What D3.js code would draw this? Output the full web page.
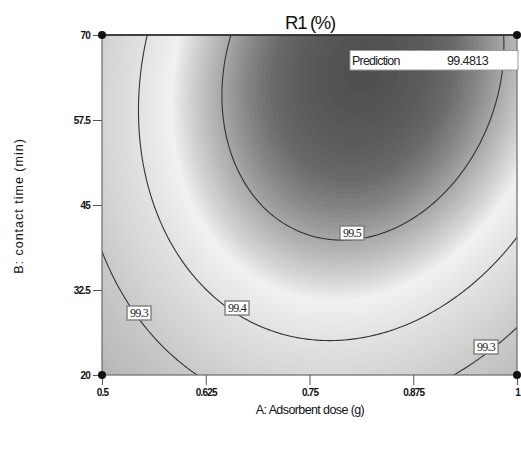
<!DOCTYPE html>
<html><head><meta charset="utf-8">
<script src="https://cdn.jsdelivr.net/npm/d3@7"></script>
<style>body{margin:0;background:#fff;font-family:"Liberation Sans",Arial,sans-serif}</style>
</head><body>
<script>
// ---- data ----
const title = "R1 (%)";
const xLabel = "A: Adsorbent dose (g)";
const yLabel = "B: contact time (min)";
const xTicks = [0.5, 0.625, 0.75, 0.875, 1];
const xTickLabels = ["0.5", "0.625", "0.75", "0.875", "1"];
const yTicks = [20, 32.5, 45, 57.5, 70];
const yTickLabels = ["20", "32.5", "45", "57.5", "70"];
// quadratic model in coded factors: Intercept, A, B, AB, A^2, B^2
const coefNames = ["Intercept", "A", "B", "AB", "A2", "B2"];
const coefValues = [99.51965, 0.05129, 0.09838, 0.02909, -0.14436, -0.06688];
const contourLevels = [99.3, 99.4, 99.5];
const labelText = ["99.3", "99.4", "99.5", "99.3"];
const labelA = [0.5446, 0.6627, 0.8012, 0.9627];
const labelB = [29.12, 29.85, 40.88, 24.12];
const designA = [0.5, 1, 0.5, 1];
const designB = [20, 20, 70, 70];
const predictionLabel = "Prediction";
const predictionValue = "99.4813";
// gray shading: value stops -> gray level
const shadeStops = [99.18, 99.3, 99.4, 99.445, 99.5, 99.54, 99.57];
const shadeGray = [180, 201, 226, 241, 168, 104, 76];

// ---- layout ----
const W = 521, H = 449;
const m = {l: 102, r: 4, t: 35, b: 74};
const x = d3.scaleLinear([0.5, 1], [m.l, W - m.r]);
const y = d3.scaleLinear([20, 70], [H - m.b, m.t]);
const codeA = d3.scaleLinear([0.5, 1], [-1, 1]);
const codeB = d3.scaleLinear([20, 70], [-1, 1]);
const grayScale = d3.scaleLinear(shadeStops, shadeGray).clamp(true);
const shade = v => { const g = Math.round(grayScale(v)); return `rgb(${g},${g},${g})`; };

function model(A, B) {
  const a = codeA(A), b = codeB(B);
  const f = [1, a, b, a * b, a * a, b * b];
  return f.reduce((s, t, i) => s + t * coefValues[i], 0);
}

const svg = d3.select("body").append("svg").attr("width", W).attr("height", H)
  .style("font-family", '"Liberation Sans", Arial, sans-serif');

svg.append("defs").append("clipPath").attr("id", "plotclip")
  .append("rect").attr("x", m.l).attr("y", m.t)
  .attr("width", W - m.r - m.l).attr("height", H - m.b - m.t);

// grid
const nx = 208, ny = 170;
const gA = d3.scaleLinear([0, nx - 1], [0.5, 1]);
const gB = d3.scaleLinear([0, ny - 1], [70, 20]);
const values = new Array(nx * ny);
for (let j = 0; j < ny; j++) for (let i = 0; i < nx; i++) values[j * nx + i] = model(gA(i), gB(j));
const path = d3.geoPath(d3.geoTransform({
  point(px, py) { this.stream.point(x(gA(px - 0.5)), y(gB(py - 0.5))); }
}));

const plot = svg.append("g").attr("clip-path", "url(#plotclip)");
const vmin = d3.min(values), vmax = d3.max(values);
plot.append("rect").attr("x", m.l).attr("y", m.t)
  .attr("width", W - m.r - m.l).attr("height", H - m.b - m.t).attr("fill", shade(vmin));
const step = 0.003;
const bands = d3.range(Math.floor(vmin / step) * step + step, vmax, step);
plot.append("g").selectAll("path")
  .data(d3.contours().size([nx, ny]).thresholds(bands)(values))
  .join("path").attr("d", path)
  .attr("fill", d => shade(d.value + step / 2))
  .attr("stroke", d => shade(d.value + step / 2)).attr("stroke-width", 0.6);

plot.append("g").selectAll("path")
  .data(d3.contours().size([nx, ny]).thresholds(contourLevels)(values))
  .join("path").attr("d", path)
  .attr("fill", "none").attr("stroke", "#333").attr("stroke-width", 1.1);

// frame
svg.append("rect").attr("x", m.l).attr("y", m.t)
  .attr("width", W - m.r - m.l).attr("height", H - m.b - m.t)
  .attr("fill", "none").attr("stroke", "#6a6a6a").attr("stroke-width", 1.2);
svg.append("line").attr("x1", m.l).attr("x2", W - m.r).attr("y1", m.t).attr("y2", m.t)
  .attr("stroke", "#222").attr("stroke-width", 1.6);

// axes
const xAxis = svg.append("g").attr("transform", `translate(0,${H - m.b})`)
  .call(d3.axisBottom(x).tickValues(xTicks).tickFormat((d, i) => xTickLabels[i]).tickSize(10).tickSizeOuter(0).tickPadding(4));
const yAxis = svg.append("g").attr("transform", `translate(${m.l},0)`)
  .call(d3.axisLeft(y).tickValues(yTicks).tickFormat((d, i) => yTickLabels[i]).tickSize(9).tickSizeOuter(0).tickPadding(3));
[xAxis, yAxis].forEach(g => {
  g.select(".domain").remove();
  g.selectAll(".tick line").attr("stroke", "#555");
  g.selectAll(".tick text").attr("fill", "#111").style("font-size", "10px")
    .style("font-weight", "bold").style("letter-spacing", "-0.8px");
});
yAxis.selectAll(".tick text").attr("dy", "0.35em");

// design points
svg.append("g").selectAll("circle").data(designA).join("circle")
  .attr("cx", d => x(d)).attr("cy", (d, i) => y(designB[i])).attr("r", 4).attr("fill", "#111");

// contour labels
const lab = svg.append("g").selectAll("g").data(labelText).join("g")
  .attr("transform", (d, i) => `translate(${x(labelA[i])},${y(labelB[i])})`);
lab.append("rect").attr("x", -12).attr("y", -7).attr("width", 24).attr("height", 14)
  .attr("fill", "#fff").attr("stroke", "#777").attr("stroke-width", 1.3);
lab.append("text").text(d => d).attr("text-anchor", "middle").attr("dy", "0.36em")
  .style("font-family", '"Liberation Serif", "DejaVu Serif", serif').style("font-size", "12px")
  .style("letter-spacing", "-0.7px").attr("fill", "#222");

// prediction box
const pb = svg.append("g");
pb.append("rect").attr("x", 350).attr("y", 50.5).attr("width", W - m.r - 350 + 1).attr("height", 19.5)
  .attr("fill", "#fff").attr("stroke", "#999");
pb.append("text").text(predictionLabel).attr("x", 352).attr("y", 65)
  .style("font-size", "12.5px").style("letter-spacing", "-0.8px").attr("fill", "#222");
pb.append("text").text(predictionValue).attr("x", 447).attr("y", 65)
  .style("font-size", "12.5px").style("letter-spacing", "-0.6px").attr("fill", "#222");

// titles
svg.append("text").text(title).attr("x", 310).attr("y", 29).attr("text-anchor", "middle")
  .style("font-size", "18.5px").style("letter-spacing", "-1.3px").attr("fill", "#111");
svg.append("text").text(xLabel).attr("x", 310).attr("y", 414).attr("text-anchor", "middle")
  .style("font-size", "12.5px").style("letter-spacing", "-0.6px").attr("fill", "#111");
svg.append("text").text(yLabel).attr("transform", "translate(23,206) rotate(-90)").attr("text-anchor", "middle")
  .style("font-size", "12.5px").style("letter-spacing", "1px").attr("fill", "#111");
</script></body></html>
